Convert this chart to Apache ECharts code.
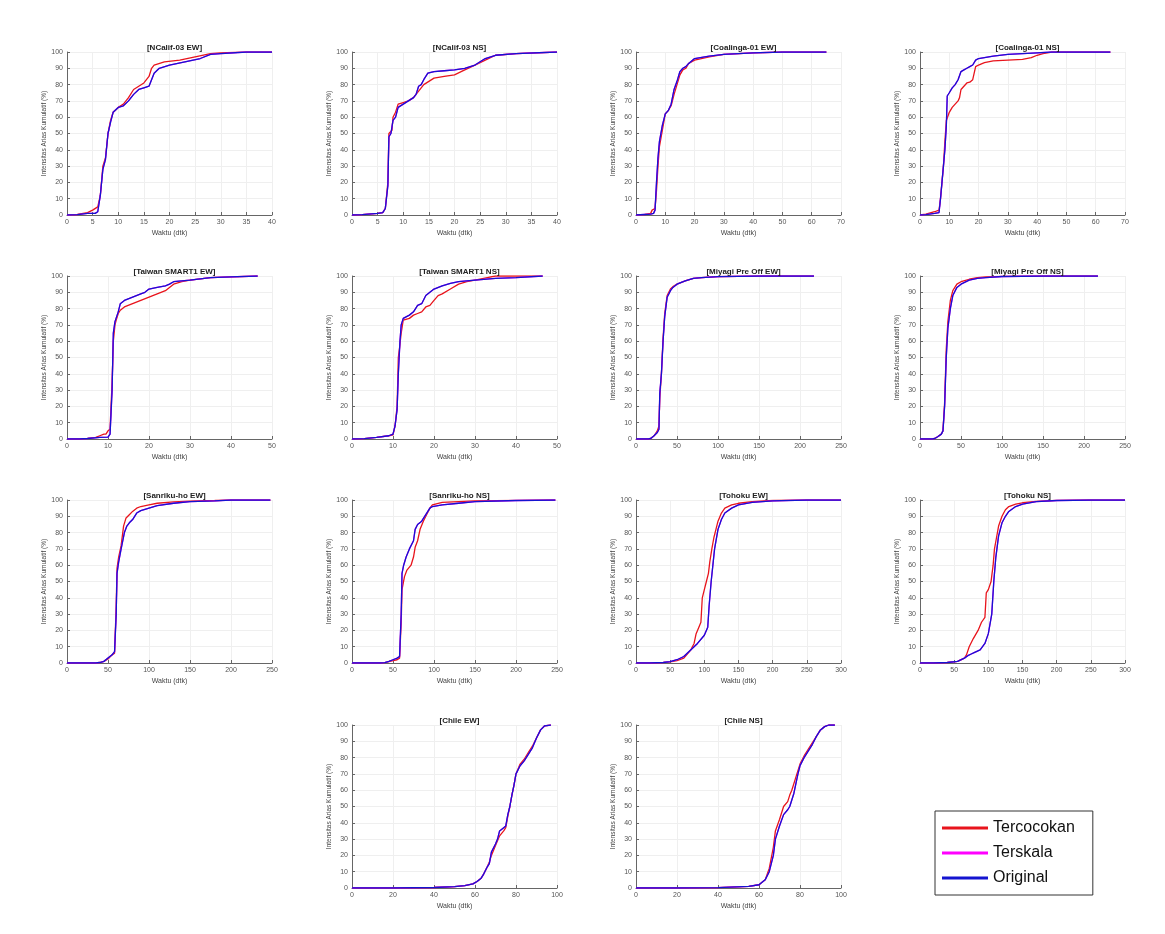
<!DOCTYPE html>
<html>
<head>
<meta charset="utf-8">
<script src="https://cdn.jsdelivr.net/npm/echarts@6/dist/echarts.min.js"></script>
<style>
  body { margin: 0; background: #fff; }
  #chart { width: 1165px; height: 934px; }
</style>
</head>
<body>
<div id="chart"></div>
<script>
// [waktu (dtk), intensitas arias kumulatif (%)]
var ncalifEW_red = [[0,0],[2,0.3],[4,1.5],[5,3],[6,5],[6.5,12],[7,30],[7.5,35],[8,50],[8.5,58],[9,63],[10,66],[11,68],[12,72],[13,77],[14,79],[15,81],[16,85],[16.5,90],[17,92],[19,94],[22,95],[25,97],[28,99],[30,99.5],[35,100],[40,100]];
var ncalifEW_blue = [[0,0],[2,0.2],[4,1],[5.5,1],[6,2],[6.5,12],[7,28],[7.5,34],[8,50],[8.5,57],[9,63],[10,66],[11,67],[12,70],[13,74],[14,77],[15,78],[16,79],[16.5,83],[17,87],[18,90],[20,92],[23,94],[26,96],[28,98.5],[30,99],[35,100],[40,100]];
var ncalifNS_red = [[0,0],[2,0.2],[5,1],[6,1.5],[6.5,4],[7,20],[7.2,50],[7.8,52],[8,60],[8.5,63],[9,68],[10,69],[11,70],[12,72],[12.5,74],[13,76],[13.5,78],[14,80],[15,82],[16,84],[18,85],[20,86],[22,89],[24,92],[26,95],[28,98],[32,99],[40,100]];
var ncalifNS_blue = [[0,0],[2,0.2],[5,1],[6,1.5],[6.5,4],[7,18],[7.2,48],[7.6,50],[8,58],[8.5,60],[9,66],[10,68],[11,70],[12,72],[12.5,74],[13,79],[13.5,80],[14,83],[14.8,87],[16,88],[18,88.5],[20,89],[22,90],[24,92],[26,96],[28,98],[32,99],[40,100]];
var coalingaEW_red = [[0,0],[3,0.3],[5,1],[5.5,3],[6,4],[6.5,4],[7,15],[7.5,30],[8,42],[9,52],[10,62],[11,64],[12,67],[13,74],[14,80],[15,86],[16,89],[17,90],[18,93],[20,95],[25,97],[30,98.5],[40,99.5],[50,100],[65,100]];
var coalingaEW_blue = [[0,0],[3,0.3],[5,0.5],[6,1],[6.5,3],[7,20],[7.5,35],[8,45],[9,55],[10,62],[11,64],[12,68],[13,77],[14,82],[15,88],[16,90],[17,91],[18,93],[20,96],[25,97.5],[30,98.5],[40,99.5],[50,100],[65,100]];
var coalingaNS_red = [[0,0],[2,0.5],[5,2],[6.5,3],[7,10],[8,30],[8.5,45],[9,58],[10,63],[11,66],[12,68],[13,70],[13.5,72],[14,77],[15,79],[16,81],[17,81.5],[18,83],[19,91],[20,92],[22,93.5],[25,94.5],[30,95],[35,95.5],[38,96.5],[40,98],[42,99],[45,100],[65,100]];
var coalingaNS_blue = [[0,0],[2,0.2],[5,1],[6.5,1.5],[7,10],[8,30],[8.5,40],[9,55],[9.3,73],[10,75],[11,78],[12,80],[13,83],[14,88],[15,89],[16,90],[17,91],[18,92],[19,95],[20,96],[25,97.5],[30,98.5],[40,99.5],[45,100],[65,100]];
var taiwanEW_red = [[0,0],[3,0],[5,0.4],[7,1],[8,2],[9,3],[9.5,3],[10,5],[10.5,6],[11,35],[11.3,60],[11.7,70],[12,73],[12.5,77],[13,79],[14,81],[16,83],[18,85],[20,87],[22,89],[24,91],[25,93],[26,95],[28,96.5],[30,97.5],[35,99],[40,99.5],[46.5,100]];
var taiwanEW_blue = [[0,0],[3,0],[5,0.3],[8,1],[10,1.2],[10.5,3],[11,30],[11.3,65],[11.7,72],[12.5,78],[13,83],[14,85],[16,87],[18,89],[19,90],[20,92],[22,93],[24,94],[25,95],[26,96.5],[28,97],[30,97.5],[35,99],[40,99.5],[46.5,100]];
var taiwanNS_red = [[0,0],[3,0.2],[6,1],[9,2],[10,2.5],[10.5,8],[11,20],[11.3,50],[11.6,56],[12,65],[12.5,73],[14,74],[15,76],[16,77],[17,78],[18,81],[19,82],[20,85],[21,88],[22,89],[24,92],[26,95],[28,96.5],[30,97.5],[33,99],[35,100],[46.5,100]];
var taiwanNS_blue = [[0,0],[3,0.2],[6,1],[9,2],[10,3],[10.5,8],[11,18],[11.3,40],[11.7,60],[12,70],[12.5,74],[14,76],[15,78],[16,82],[17,83],[18,88],[19,90],[20,92],[22,94],[24,95.5],[26,96.5],[28,97],[30,97.5],[35,98.5],[40,99],[46.5,100]];
var miyagiEW_red = [[0,0],[15,0],[18,0.3],[22,2],[26,5],[28,8],[29,25],[31,40],[33,62],[35,77],[38,88],[42,92],[45,93.5],[50,95],[60,97],[70,98.5],[80,99],[100,99.6],[150,100],[217,100]];
var miyagiEW_blue = [[0,0],[15,0],[18,0.3],[22,2],[26,4],[28,6],[29,28],[31,40],[33,60],[35,75],[38,87],[42,91],[45,93],[50,95],[60,97],[70,98.5],[80,99],[100,99.6],[150,100],[217,100]];
var miyagiNS_red = [[0,0],[15,0],[18,0.3],[22,1.5],[26,3],[28,5],[30,22],[32,55],[34,72],[37,85],[40,91],[45,95],[50,96.5],[60,98],[70,99],[80,99.5],[100,99.8],[150,100],[217,100]];
var miyagiNS_blue = [[0,0],[15,0],[18,0.3],[22,1.5],[26,3],[28,5],[30,20],[32,50],[34,68],[37,80],[40,88],[45,93],[50,95],[60,97.5],[70,98.5],[80,99],[100,99.7],[150,100],[217,100]];
var sanrikuEW_red = [[0,0],[35,0],[40,0.3],[45,1],[50,2.5],[55,5],[58,6],[60,35],[61,58],[63,65],[66,72],[69,84],[72,89],[76,91],[80,93],[85,95],[90,96],[100,97],[110,98],[130,98.8],[150,99.3],[180,99.7],[200,100],[248,100]];
var sanrikuEW_blue = [[0,0],[35,0],[40,0.3],[45,1],[50,3],[55,5],[58,7],[60,30],[61,55],[63,62],[66,70],[70,80],[73,84],[76,86],[80,88],[85,92],[90,93.5],[100,95],[110,96.5],[130,98],[150,99],[180,99.5],[200,100],[248,100]];
var sanrikuNS_red = [[0,0],[35,0],[40,0.2],[45,0.8],[50,1.5],[55,2],[58,3],[60,25],[61,45],[64,53],[67,57],[72,60],[75,65],[77,71],[80,75],[83,82],[87,87],[90,90],[95,95],[98,97],[110,98.5],[130,99],[150,99.5],[200,99.8],[248,100]];
var sanrikuNS_blue = [[0,0],[35,0],[40,0.2],[45,1],[50,2],[55,3],[58,4],[60,30],[61,55],[63,60],[66,65],[70,70],[75,75],[77,82],[80,85],[85,87],[90,91],[95,95],[98,96],[110,97],[130,98],[150,99],[200,99.7],[248,100]];
var tohokuEW_red = [[0,0],[20,0],[40,0.3],[50,0.7],[60,1.5],[70,3],[80,8],[85,12],[88,18],[92,22],[95,25],[97,40],[100,45],[103,50],[106,55],[108,62],[111,70],[114,77],[117,82],[120,87],[125,92],[130,95],[140,97],[150,98],[170,99],[200,99.7],[250,100],[300,100]];
var tohokuEW_blue = [[0,0],[20,0],[40,0.3],[50,0.8],[60,2],[70,4],[80,8],[90,12],[100,17],[105,22],[107,35],[110,50],[115,70],[120,82],[125,88],[130,92],[140,95],[150,97],[170,98.5],[200,99.5],[250,100],[300,100]];
var tohokuNS_red = [[0,0],[20,0],[40,0.3],[55,1],[65,3],[68,5],[72,10],[78,15],[85,20],[90,25],[95,28],[97,43],[100,45],[104,50],[107,60],[109,70],[112,77],[115,84],[120,90],[125,94],[130,96],[140,97.5],[150,98.3],[170,99.2],[200,99.8],[250,100],[300,100]];
var tohokuNS_blue = [[0,0],[20,0],[40,0.3],[55,1],[65,3],[70,4.5],[75,5.5],[80,6.5],[88,8],[95,12],[100,18],[105,30],[108,50],[111,65],[115,78],[120,86],[125,90],[130,93],[140,96],[150,97.5],[170,99],[200,99.7],[250,100],[300,100]];
var chileEW_red = [[0,0],[20,0],[40,0.3],[50,0.8],[55,1.5],[59,2.5],[61,4],[63,6],[64,8],[66,13],[67,16],[68,20],[70,26],[72,32],[74,35],[75,37],[76,44],[77,50],[78,57],[79,63],[80,70],[82,76],[84,79],[86,83],[88,87],[90,92],[92,97],[94,99.5],[97,100]];
var chileEW_blue = [[0,0],[20,0],[40,0.3],[50,0.8],[55,1.5],[59,2.5],[61,4],[63,6],[64,8],[66,13],[67,15],[68,22],[70,27],[71,30],[72,35],[74,37],[75,38],[76,45],[77,50],[78,57],[79,63],[80,70],[82,75],[84,78],[86,82],[88,86],[90,92],[92,97],[94,99.5],[97,100]];
var chileNS_red = [[0,0],[20,0],[40,0.2],[55,1],[60,2],[63,5],[65,12],[67,25],[68,35],[70,42],[72,50],[74,53],[75,57],[76,60],[78,68],[80,76],[82,81],[84,85],[86,89],[88,93],[90,97],[92,99],[94,100],[97,100]];
var chileNS_blue = [[0,0],[20,0],[40,0.2],[55,1],[60,2],[63,5],[65,10],[67,20],[68,30],[70,38],[72,45],[74,48],[75,50],[77,58],[79,70],[80,75],[82,80],[84,84],[86,88],[88,93],[90,97],[92,99],[94,100],[97,100]];

var titles = ['[NCalif-03 EW]', '[NCalif-03 NS]', '[Coalinga-01 EW]', '[Coalinga-01 NS]',
  '[Taiwan SMART1 EW]', '[Taiwan SMART1 NS]', '[Miyagi Pre Off EW]', '[Miyagi Pre Off NS]',
  '[Sanriku-ho EW]', '[Sanriku-ho NS]', '[Tohoku EW]', '[Tohoku NS]', '[Chile EW]', '[Chile NS]'];
var xMax = [40, 40, 70, 70, 50, 50, 250, 250, 250, 250, 300, 300, 100, 100];
var xStep = [5, 5, 10, 10, 10, 10, 50, 50, 50, 50, 50, 50, 20, 20];
var redData = [ncalifEW_red, ncalifNS_red, coalingaEW_red, coalingaNS_red, taiwanEW_red, taiwanNS_red,
  miyagiEW_red, miyagiNS_red, sanrikuEW_red, sanrikuNS_red, tohokuEW_red, tohokuNS_red, chileEW_red, chileNS_red];
var blueData = [ncalifEW_blue, ncalifNS_blue, coalingaEW_blue, coalingaNS_blue, taiwanEW_blue, taiwanNS_blue,
  miyagiEW_blue, miyagiNS_blue, sanrikuEW_blue, sanrikuNS_blue, tohokuEW_blue, tohokuNS_blue, chileEW_blue, chileNS_blue];
// Terskala sits under Original (same normalised curve)
var magentaData = blueData;
var seriesNames = ['Tercocokan', 'Terskala', 'Original'];

var colLeft = [67, 352, 636, 920];
var rowTop = [52, 276, 500, 725];
var W = 205, H = 163;
// grid slot (row, col) for each subplot
var slots = [[0,0],[0,1],[0,2],[0,3],[1,0],[1,1],[1,2],[1,3],[2,0],[2,1],[2,2],[2,3],[3,1],[3,2]];

var font = 'Liberation Sans, Arial, sans-serif';
var grids = [], xAxes = [], yAxes = [], series = [], titleList = [];

slots.forEach(function (s, i) {
  var left = colLeft[s[1]], top = rowTop[s[0]];
  grids.push({ left: left, top: top, width: W, height: H });
  titleList.push({
    text: titles[i], left: left + W / 2, top: top - 13, textAlign: 'center',
    textStyle: { fontSize: 8, fontWeight: 'bold', color: '#222', fontFamily: font }
  });
  var tickLabel = { fontSize: 7, color: '#555', fontFamily: font, margin: 4 };
  xAxes.push({
    type: 'value', gridIndex: i, min: 0, max: xMax[i], interval: xStep[i],
    name: 'Waktu (dtk)', nameLocation: 'middle', nameGap: 15,
    nameTextStyle: { fontSize: 7, color: '#444', fontFamily: font },
    axisLine: { lineStyle: { color: '#666', width: 1 } },
    axisTick: { inside: true, length: 3, lineStyle: { color: '#666' } },
    axisLabel: tickLabel,
    splitLine: { show: true, lineStyle: { color: '#efefef', width: 1 } }
  });
  yAxes.push({
    type: 'value', gridIndex: i, min: 0, max: 100, interval: 10,
    name: 'Intensitas Arias Kumulatif (%)', nameLocation: 'middle', nameGap: 17,
    nameTextStyle: { fontSize: 6.5, color: '#444', fontFamily: font },
    axisLine: { show: true, lineStyle: { color: '#666', width: 1 } },
    axisTick: { show: true, inside: true, length: 3, lineStyle: { color: '#666' } },
    axisLabel: tickLabel,
    splitLine: { show: true, lineStyle: { color: '#efefef', width: 1 } }
  });
  [[redData[i], '#e8141c', 'Tercocokan'], [magentaData[i], '#ff00ff', 'Terskala'], [blueData[i], '#1414d0', 'Original']]
    .forEach(function (d, k) {
      series.push({
        type: 'line', name: d[2], xAxisIndex: i, yAxisIndex: i, data: d[0],
        showSymbol: false, symbol: 'none', animation: false, z: 2 + k,
        lineStyle: { color: d[1], width: 1.3 }, itemStyle: { color: d[1] }
      });
    });
});

var chart = echarts.init(document.getElementById('chart'));
chart.setOption({
  backgroundColor: '#fff',
  animation: false,
  title: titleList,
  grid: grids,
  xAxis: xAxes,
  yAxis: yAxes,
  series: series,
  legend: {
    data: seriesNames, orient: 'vertical', left: 935, top: 811,
    icon: 'rect', itemWidth: 46, itemHeight: 3, itemGap: 9,
    padding: [9, 18, 9, 7],
    borderColor: '#333', borderWidth: 1, backgroundColor: '#fff',
    textStyle: { fontSize: 16, color: '#111', fontFamily: font }
  }
});
</script>
</body>
</html>
